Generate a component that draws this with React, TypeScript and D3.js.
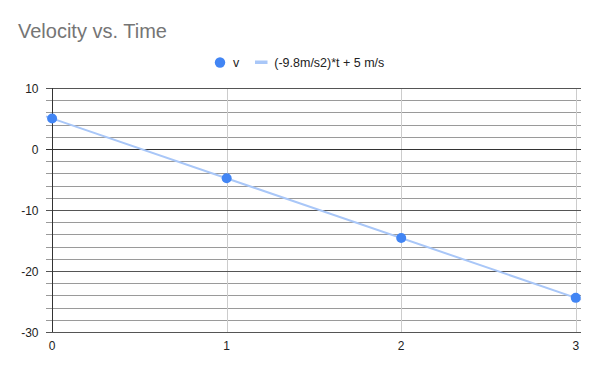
import React from "react";
import * as d3 from "d3";

const times = [0, 1, 2, 3];
const velocities = [5, -4.8, -14.6, -24.4];
const trendSlope = -9.8;
const trendIntercept = 5;
const yTicks = [10, 0, -10, -20, -30];
const xTicks = [0, 1, 2, 3];
const title = "Velocity vs. Time";
const seriesName = "v";
const trendName = "(-9.8m/s2)*t + 5 m/s";

const W = 600;
const H = 371;
const left = 46;
const right = 581;
const top = 88;
const bottom = 332;
const FONT = "Arial, 'Liberation Sans', sans-serif";

export default function App() {
  const x = d3.scaleLinear().domain([-0.035, 3.03]).range([left, right]);
  const y = d3.scaleLinear().domain([-30, 10]).range([bottom, top]);
  const minorTicks = d3.range(-30, 10.001, 2).filter((v) => v % 10 !== 0);
  const trendX = x.domain();
  const trendLine = d3
    .line<number>()
    .x((t) => x(t))
    .y((t) => y(trendSlope * t + trendIntercept));

  return (
    <svg
      width={W}
      height={H}
      style={{ position: "absolute", left: 0, top: 0, background: "#fff" }}
      fontFamily={FONT}
    >
      <rect width={W} height={H} fill="#fff" />
      <text x={18} y={37.5} fontSize={20} fill="#757575">
        {title}
      </text>
      {/* legend */}
      <circle cx={220} cy={62.5} r={5.2} fill="#4285f4" />
      <text x={233} y={67} fontSize={12.5} fill="#222">
        {seriesName}
      </text>
      <rect x={255} y={60.5} width={12.5} height={3.5} fill="#a9c7f8" />
      <text
        x={274.3}
        y={67}
        fontSize={12.5}
        fill="#222"
        textLength={110}
        lengthAdjust="spacingAndGlyphs"
      >
        {trendName}
      </text>
      {/* minor gridlines */}
      {minorTicks.map((v) => (
        <line
          key={"m" + v}
          x1={left}
          x2={right}
          y1={Math.round(y(v)) + 0.5}
          y2={Math.round(y(v)) + 0.5}
          stroke="#9a9a9a"
          strokeWidth={1}
        />
      ))}
      {/* vertical gridlines */}
      {xTicks
        .filter((v) => v !== 0)
        .map((v) => (
          <line
            key={"v" + v}
            x1={Math.round(x(v)) + 0.5}
            x2={Math.round(x(v)) + 0.5}
            y1={top}
            y2={bottom}
            stroke="#cccccc"
            strokeWidth={1}
          />
        ))}
      {/* major gridlines */}
      {yTicks.map((v) => (
        <line
          key={"M" + v}
          x1={left}
          x2={right}
          y1={Math.round(y(v)) + 0.5}
          y2={Math.round(y(v)) + 0.5}
          stroke={v === 0 ? "#333" : "#555"}
          strokeWidth={1}
        />
      ))}
      {/* vertical axis at x=0 */}
      <line
        x1={Math.round(x(0)) + 0.5}
        x2={Math.round(x(0)) + 0.5}
        y1={top}
        y2={bottom}
        stroke="#333"
        strokeWidth={1}
      />
      {/* y tick labels */}
      {yTicks.map((v) => (
        <text
          key={"yl" + v}
          x={38.5}
          y={y(v) + 4.5}
          fontSize={12}
          textAnchor="end"
          fill="#222"
        >
          {v}
        </text>
      ))}
      {/* x tick labels */}
      {xTicks.map((v) => (
        <text
          key={"xl" + v}
          x={x(v)}
          y={349.5}
          fontSize={12}
          textAnchor="middle"
          fill="#222"
        >
          {v}
        </text>
      ))}
      {/* trendline */}
      <path
        d={trendLine(trendX) || ""}
        fill="none"
        stroke="#a9c7f8"
        strokeWidth={2}
      />
      {/* points */}
      {times.map((t, i) => (
        <circle
          key={"p" + i}
          cx={x(t)}
          cy={y(velocities[i])}
          r={5}
          fill="#4285f4"
        />
      ))}
    </svg>
  );
}
